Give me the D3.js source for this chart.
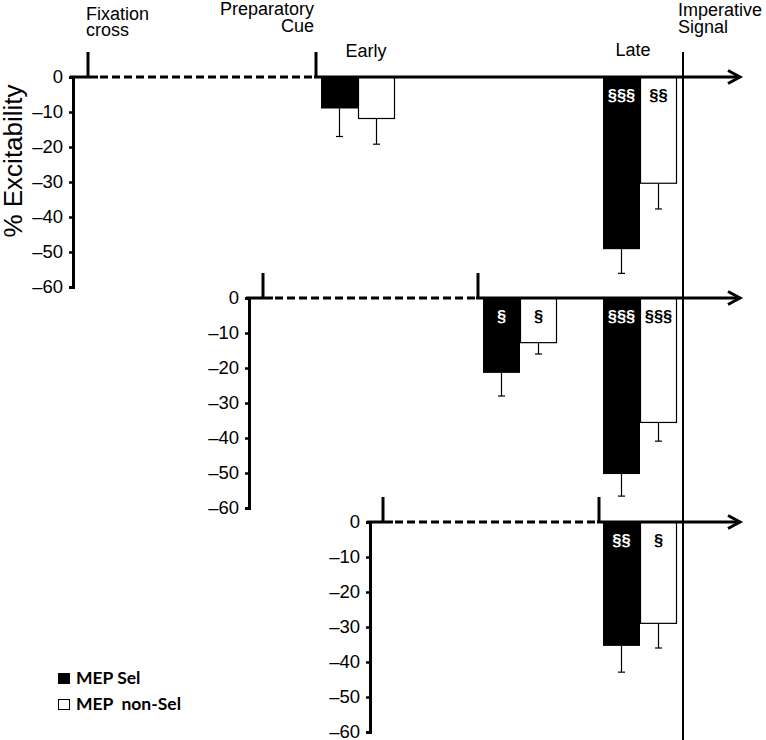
<!DOCTYPE html>
<html>
<head>
<meta charset="utf-8">
<script src="https://cdn.jsdelivr.net/npm/d3@7"></script>
<style>
  html, body { margin: 0; padding: 0; background: #fff; }
  svg { display: block; }
</style>
</head>
<body>
<svg id="chart" width="766" height="740"></svg>
<script>
// ---------- DATA ----------
const categories = ["Early", "Late"];
const series = ["MEP Sel", "MEP non-Sel"];
const tickValues = [0, -10, -20, -30, -40, -50, -60];
const yDomain = [-60, 0];
// one entry per panel (top, middle, bottom); each = [Early, Late]
const selValues    = [[-9.0, -49.2], [-21.4, -50.3], [null, -35.4]];
const nonSelValues = [[-12.0, -30.5], [-12.9, -35.7], [null, -29.1]];
const selErr       = [[8.0, 6.9], [6.6, 6.3], [null, 7.5]];
const nonSelErr    = [[7.2, 7.2], [3.1, 5.2], [null, 6.9]];
const selSig       = [["", "§§§"], ["§", "§§§"], ["", "§§"]];
const nonSelSig    = [["", "§§"], ["§", "§§§"], ["", "§"]];
const eventLabels  = [["Fixation", "cross"], ["Preparatory", "Cue"], ["Imperative", "Signal"]];
const yTitle = "% Excitability";

// ---------- LAYOUT (positions only) ----------
const layout = [
  { axisX: 73,  zeroY: 77,  fixX: 88,  cueX: 316 },
  { axisX: 249, zeroY: 298, fixX: 263, cueX: 478 },
  { axisX: 370, zeroY: 522, fixX: 383, cueX: 599 }
];
const arrowX = 740;
const lateX = 603;
const pairW = 74;
const imperativeX = 683;
const font = "'Liberation Sans', Arial, Helvetica, sans-serif";

const svg = d3.select("#chart");

const xInner = d3.scaleBand().domain(series).range([0, pairW]).padding(0);
const tickFmt = v => (v < 0 ? "\u2013" + Math.abs(v) : String(v));

layout.forEach((L, p) => {
  const g = svg.append("g");
  const y = d3.scaleLinear().domain(yDomain).range([L.zeroY + 210, L.zeroY]);

  // y axis
  const ax = g.append("g")
    .attr("transform", `translate(${L.axisX},0)`)
    .call(d3.axisLeft(y).tickValues(tickValues).tickFormat(tickFmt).tickSize(4).tickPadding(6));
  ax.select(".domain").attr("stroke-width", 3).attr("stroke", "#000");
  ax.selectAll(".tick line").attr("stroke-width", 2.5).attr("stroke", "#000");
  ax.selectAll(".tick text").attr("font-family", font).attr("font-size", 18.5).attr("fill", "#000");

  // window positions for Early / Late
  const winX = { Early: L.cueX + 5, Late: lateX };

  // bars
  const vals = [selValues[p], nonSelValues[p]];
  const errs = [selErr[p], nonSelErr[p]];
  const sigs = [selSig[p], nonSelSig[p]];
  const barData = [];
  categories.forEach((c, ci) => {
    series.forEach((s, si) => {
      const v = vals[si][ci];
      if (v === null) return;
      barData.push({ cat: c, ser: s, si, v, e: errs[si][ci], sig: sigs[si][ci] });
    });
  });

  // error bars (drawn first, below)
  barData.forEach(d => {
    const cx = winX[d.cat] + xInner(d.ser) + xInner.bandwidth() / 2;
    g.append("line")
      .attr("x1", cx).attr("x2", cx)
      .attr("y1", y(d.v)).attr("y2", y(d.v - d.e))
      .attr("stroke", "#000").attr("stroke-width", 1.2);
    g.append("line")
      .attr("x1", cx - 3.5).attr("x2", cx + 3.5)
      .attr("y1", y(d.v - d.e)).attr("y2", y(d.v - d.e))
      .attr("stroke", "#000").attr("stroke-width", 1.2);
  });

  barData.forEach(d => {
    const x0 = winX[d.cat] + xInner(d.ser);
    g.append("rect")
      .attr("x", d.si === 0 ? x0 : x0 + 0.5)
      .attr("y", y(0))
      .attr("width", d.si === 0 ? xInner.bandwidth() : xInner.bandwidth() - 1)
      .attr("height", y(d.v) - y(0) - (d.si === 0 ? 0 : 0.5))
      .attr("fill", d.si === 0 ? "#000" : "#fff")
      .attr("stroke", "#000")
      .attr("stroke-width", d.si === 0 ? 0 : 1.2);
    if (d.sig) {
      g.append("text")
        .attr("x", x0 + xInner.bandwidth() / 2)
        .attr("y", y(0) + 24)
        .attr("text-anchor", "middle")
        .attr("font-family", font)
        .attr("font-weight", "bold")
        .attr("font-size", 16.5)
        .attr("fill", d.si === 0 ? "#fff" : "#000")
        .text(d.sig);
    }
  });

  // horizontal time axis: solid segments and dashed delay
  const zy = y(0);
  g.append("line").attr("x1", L.axisX - 3).attr("x2", L.fixX + 10).attr("y1", zy).attr("y2", zy)
    .attr("stroke", "#000").attr("stroke-width", 3);
  g.append("line").attr("x1", L.fixX + 12).attr("x2", L.cueX - 2).attr("y1", zy).attr("y2", zy)
    .attr("stroke", "#000").attr("stroke-width", 3).attr("stroke-dasharray", "8,4");
  g.append("line").attr("x1", L.cueX - 2).attr("x2", arrowX - 1).attr("y1", zy).attr("y2", zy)
    .attr("stroke", "#000").attr("stroke-width", 3);
  g.append("path")
    .attr("d", `M${arrowX - 12},${zy - 6.5} L${arrowX},${zy} L${arrowX - 12},${zy + 6.5}`)
    .attr("fill", "none").attr("stroke", "#000").attr("stroke-width", 3)
    .attr("stroke-linejoin", "miter");

  // event ticks
  [L.fixX, L.cueX].forEach(x => {
    g.append("line").attr("x1", x).attr("x2", x).attr("y1", zy - 25).attr("y2", zy)
      .attr("stroke", "#000").attr("stroke-width", 3);
  });
});

// imperative signal line
svg.append("line").attr("x1", imperativeX).attr("x2", imperativeX)
  .attr("y1", 52).attr("y2", 740).attr("stroke", "#000").attr("stroke-width", 2);

// top event labels
function twoLine(lines, x, y0, gap, anchor) {
  const t = svg.append("text").attr("font-family", font).attr("font-size", 18)
    .attr("text-anchor", anchor).attr("fill", "#000");
  lines.forEach((s, i) => t.append("tspan").attr("x", x).attr("y", y0 + i * gap).text(s));
}
twoLine(eventLabels[0], 86, 20, 16, "start");
twoLine(eventLabels[1], 314, 15, 17, "end");
twoLine(eventLabels[2], 678, 16, 17, "start");

// window labels
svg.append("text").attr("x", 366).attr("y", 57).attr("text-anchor", "middle")
  .attr("font-family", font).attr("font-size", 18).text(categories[0]);
svg.append("text").attr("x", 633).attr("y", 56).attr("text-anchor", "middle")
  .attr("font-family", font).attr("font-size", 18).text(categories[1]);

// y title
svg.append("text")
  .attr("transform", "translate(22,161) rotate(-90)")
  .attr("text-anchor", "middle")
  .attr("font-family", font).attr("font-size", 26).text(yTitle);

// legend
const legend = svg.append("g");
series.forEach((s, i) => {
  const yy = 673 + i * 26;
  legend.append("rect").attr("x", 58.5).attr("y", yy + 0.5).attr("width", 11).attr("height", 10)
    .attr("fill", i === 0 ? "#000" : "#fff").attr("stroke", "#000").attr("stroke-width", 1);
  legend.append("text").attr("x", 76).attr("y", yy + 11)
    .attr("font-family", "Lato, 'Open Sans', sans-serif").attr("font-weight", "bold")
    .attr("font-size", 17.5).attr("xml:space", "preserve").text(i === 0 ? "MEP Sel" : "MEP  non-Sel");
});
</script>
</body>
</html>
